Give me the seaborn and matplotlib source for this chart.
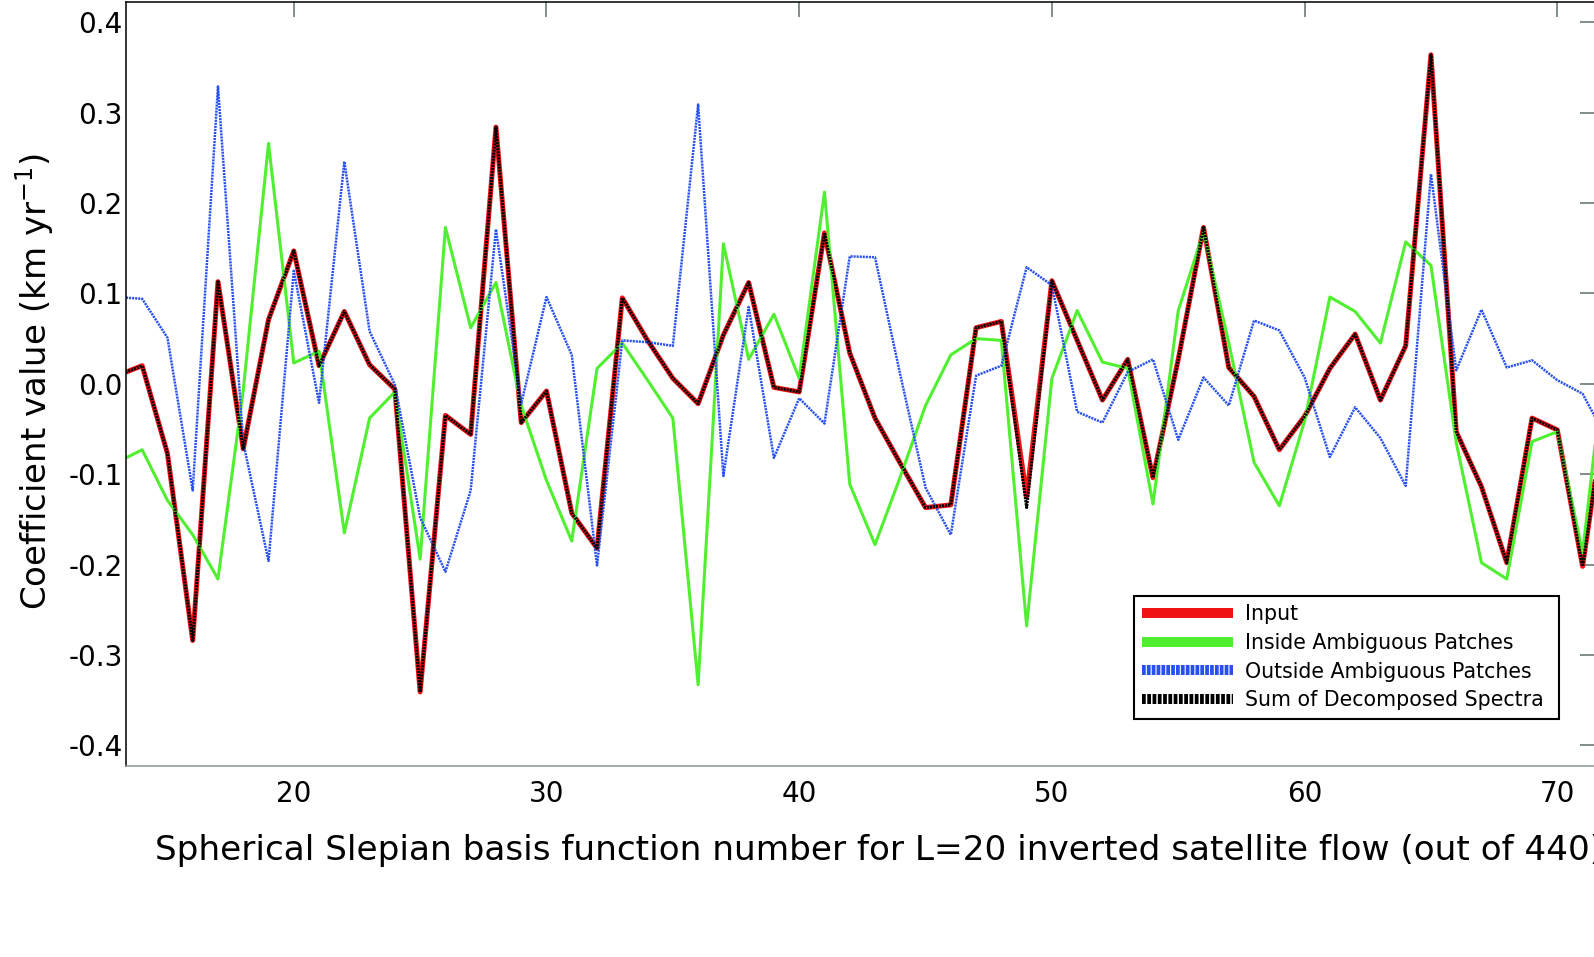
import matplotlib
matplotlib.use("Agg")
import matplotlib.pyplot as plt
from matplotlib.lines import Line2D
import seaborn as sns

# Slepian basis function number (13 and 72 sit just outside the visible range)
basis_num = list(range(13, 73))

input_vals = [
    0.009, 0.020, -0.077, -0.284, 0.113, -0.072, 0.071, 0.147, 0.020, 0.080,
    0.021, -0.006, -0.341, -0.035, -0.056, 0.284, -0.043, -0.008, -0.143, -0.182,
    0.095, 0.048, 0.006, -0.022, 0.054, 0.112, -0.004, -0.009, 0.167, 0.034,
    -0.038, -0.088, -0.137, -0.134, 0.062, 0.069, -0.125, 0.114, 0.048, -0.018,
    0.027, -0.104, 0.027, 0.173, 0.018, -0.014, -0.073, -0.036, 0.017, 0.055,
    -0.018, 0.042, 0.364, -0.053, -0.114, -0.198, -0.038, -0.051, -0.202, -0.010,
]
inside_vals = [
    -0.087, -0.073, -0.129, -0.167, -0.216, -0.007, 0.266, 0.023, 0.036, -0.165,
    -0.038, -0.009, -0.194, 0.173, 0.062, 0.112, -0.024, -0.107, -0.174, 0.017,
    0.045, 0.004, -0.038, -0.333, 0.155, 0.027, 0.077, 0.006, 0.212, -0.111,
    -0.178, -0.103, -0.024, 0.032, 0.050, 0.048, -0.268, 0.006, 0.081, 0.024,
    0.017, -0.133, 0.081, 0.168, 0.045, -0.087, -0.135, -0.041, 0.096, 0.080,
    0.045, 0.157, 0.131, -0.065, -0.198, -0.216, -0.064, -0.053, -0.187, 0.055,
]
outside_vals = [
    0.096, 0.094, 0.051, -0.118, 0.329, -0.065, -0.196, 0.125, -0.021, 0.246,
    0.058, -0.001, -0.148, -0.208, -0.118, 0.171, -0.022, 0.096, 0.032, -0.201,
    0.048, 0.046, 0.042, 0.309, -0.102, 0.085, -0.082, -0.016, -0.044, 0.141,
    0.140, 0.010, -0.115, -0.167, 0.009, 0.020, 0.129, 0.109, -0.031, -0.043,
    0.013, 0.027, -0.062, 0.007, -0.024, 0.070, 0.059, 0.007, -0.081, -0.026,
    -0.060, -0.113, 0.232, 0.015, 0.082, 0.018, 0.026, 0.004, -0.011, -0.063,
]
sum_vals = [
    0.009, 0.020, -0.077, -0.284, 0.113, -0.072, 0.071, 0.147, 0.020, 0.080,
    0.021, -0.006, -0.341, -0.035, -0.056, 0.284, -0.043, -0.008, -0.143, -0.182,
    0.095, 0.048, 0.006, -0.022, 0.054, 0.112, -0.004, -0.009, 0.167, 0.034,
    -0.038, -0.088, -0.137, -0.134, 0.062, 0.069, -0.137, 0.114, 0.048, -0.018,
    0.027, -0.104, 0.027, 0.173, 0.018, -0.014, -0.073, -0.036, 0.017, 0.055,
    -0.018, 0.042, 0.364, -0.053, -0.114, -0.198, -0.038, -0.051, -0.202, -0.010,
]

series_labels = ["Input", "Inside Ambiguous Patches",
                 "Outside Ambiguous Patches", "Sum of Decomposed Spectra "]
x_ticks = [20, 30, 40, 50, 60, 70]
y_ticks = [-0.4, -0.3, -0.2, -0.1, 0.0, 0.1, 0.2, 0.3, 0.4]
y_tick_labels = ["-0.4", "-0.3", "-0.2", "-0.1", "0.0", "0.1", "0.2", "0.3", "0.4"]

sns.set_theme(style="white")
plt.rcParams["font.family"] = ["DejaVu Sans"]
plt.rcParams["mathtext.fontset"] = "dejavusans"
plt.rcParams["axes.unicode_minus"] = False
plt.rcParams["lines.scale_dashes"] = False
plt.rcParams["text.color"] = "black"
plt.rcParams["axes.labelcolor"] = "black"

RED = "#f01414"
GREEN = "#50f030"
BLUE = "#2850f0"
BLACK = "#000000"

fig = plt.figure(figsize=(15.94, 9.57), dpi=100)
ax = fig.add_axes([0.0792, 0.1996, 0.9214, 0.798])

# (values, colour, width, linestyle) in MATLAB plot order
styles = [
    (input_vals, RED, 3.6, "-"),
    (inside_vals, GREEN, 2.2, "-"),
    (outside_vals, BLUE, 1.8, (0, (1.5, 0.7))),
    (sum_vals, BLACK, 2.2, (0, (1.5, 0.7))),
]
for vals, col, lw, ls in styles:
    sns.lineplot(x=basis_num, y=vals, color=col, linewidth=lw,
                 estimator=None, errorbar=None, sort=False, ax=ax)
    ax.lines[-1].set_linestyle(ls)

ax.set_xlim(13.37, 71.49)
ax.set_ylim(-0.4229, 0.4221)
ax.set_xticks(x_ticks)
ax.set_yticks(y_ticks, labels=y_tick_labels)
ax.tick_params(axis="both", direction="in", length=10.5, width=1.1,
               color="#5f6f6f", labelcolor="black", labelsize=20,
               top=True, right=True)
ax.tick_params(axis="x", pad=10)
ax.tick_params(axis="y", pad=2.5)

for side, spine in ax.spines.items():
    spine.set_linewidth(1.1)
    spine.set_color("black")
ax.spines["bottom"].set_color("#8a9a9a")

ax.set_xlabel("Spherical Slepian basis function number for L=20 inverted "
              "satellite flow (out of 440)", fontsize=24.7)
ax.xaxis.set_label_coords(0.5128, -0.123)
ax.xaxis.label.set_va("baseline")

ax.set_ylabel(r"Coefficient value (km yr$^{-1}$)", fontsize=24.5)
ax.yaxis.set_label_coords(-0.0545, 0.504)
ax.yaxis.label.set_va("baseline")

handles = [
    Line2D([], [], color=RED, lw=7.2, ls="-", solid_capstyle="butt"),
    Line2D([], [], color=GREEN, lw=7.2, ls="-", solid_capstyle="butt"),
    Line2D([], [], color=BLUE, lw=7.2, ls=(0, (2.7, 0.8)), dash_capstyle="butt"),
    Line2D([], [], color=BLACK, lw=7.2, ls=(0, (2.7, 1.1)), dash_capstyle="butt"),
]
leg = ax.legend(handles, series_labels, loc="upper left",
                bbox_to_anchor=(0.6859, 0.2226), borderaxespad=0,
                fontsize=14.8, handlelength=4.4, handletextpad=0.6,
                labelspacing=0.42, borderpad=0.41, frameon=True,
                fancybox=False, framealpha=1, edgecolor="black")
leg.get_frame().set_linewidth(1.5)

fig.savefig("out.png", dpi=100)
plt.close(fig)
